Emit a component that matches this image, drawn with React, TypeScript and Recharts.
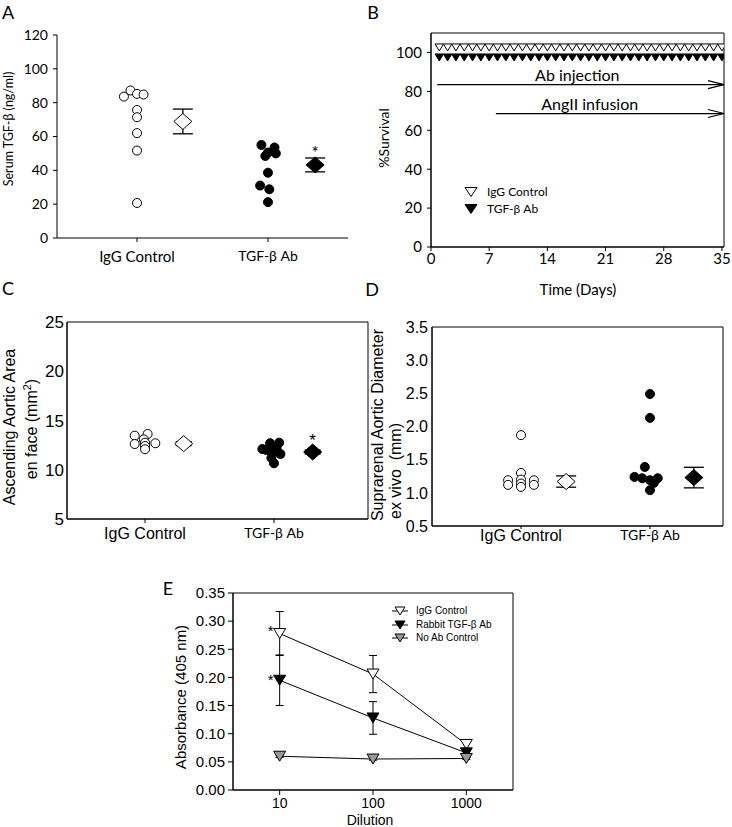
import React from "react";
import {
  ScatterChart,
  Scatter,
  LineChart,
  Line,
  XAxis,
  YAxis,
  ErrorBar,
  ReferenceArea,
  ReferenceLine,
  ReferenceDot,
} from "recharts";

const groups = ["IgG Control", "TGF-β Ab"];

// A: serum TGF-beta (ng/ml), x = group index with a little jitter
const serumIgG = [
  { x: 0.9, y: 83.6 },
  { x: 0.95, y: 87.2 },
  { x: 1.0, y: 85.2 },
  { x: 1.05, y: 84.8 },
  { x: 1.0, y: 75.7 },
  { x: 1.0, y: 71.4 },
  { x: 1.0, y: 62.0 },
  { x: 1.0, y: 51.7 },
  { x: 1.0, y: 20.7 },
];
const serumAb = [
  { x: 1.95, y: 55.0 },
  { x: 2.05, y: 53.5 },
  { x: 2.0, y: 50.5 },
  { x: 1.98, y: 48.5 },
  { x: 2.06, y: 50.0 },
  { x: 2.0, y: 38.6 },
  { x: 1.94, y: 31.0 },
  { x: 2.01, y: 28.8 },
  { x: 2.0, y: 21.2 },
];
const serumMeanIgG = [{ x: 1.35, y: 68.9, err: 7.3 }];
const serumMeanAb = [{ x: 2.36, y: 43.2, err: 4.1 }];
const serumStar = [{ x: 2.36, y: 51.5 }];

// B: survival
const survivalDays = [
  1, 2, 3, 4, 5, 6, 7, 8, 9, 10, 11, 12, 13, 14, 15, 16, 17, 18, 19, 20, 21,
  22, 23, 24, 25, 26, 27, 28, 29, 30, 31, 32, 33, 34, 35,
];
const survivalIgG = [
  100, 100, 100, 100, 100, 100, 100, 100, 100, 100, 100, 100, 100, 100, 100,
  100, 100, 100, 100, 100, 100, 100, 100, 100, 100, 100, 100, 100, 100, 100,
  100, 100, 100, 100, 100,
];
const survivalAb = [
  100, 100, 100, 100, 100, 100, 100, 100, 100, 100, 100, 100, 100, 100, 100,
  100, 100, 100, 100, 100, 100, 100, 100, 100, 100, 100, 100, 100, 100, 100,
  100, 100, 100, 100, 100,
];
const treatments = [
  { label: "Ab injection", start: 0.75, level: 83.5, textX: 17.6, textY: 88.2 },
  { label: "AngII infusion", start: 7.8, level: 68.6, textX: 19.1, textY: 73.2 },
];

// C: ascending aortic area en face (mm2)
const areaIgG = [
  { x: 0.92, y: 13.46 },
  { x: 1.02, y: 13.63 },
  { x: 0.92, y: 12.61 },
  { x: 1.08, y: 12.69 },
  { x: 0.99, y: 13.09 },
  { x: 1.0, y: 12.75 },
  { x: 1.0, y: 12.41 },
  { x: 1.0, y: 12.08 },
];
const areaAb = [
  { x: 1.91, y: 12.1 },
  { x: 1.97, y: 12.7 },
  { x: 2.04, y: 12.75 },
  { x: 1.94, y: 12.0 },
  { x: 1.99, y: 11.8 },
  { x: 2.05, y: 11.6 },
  { x: 2.02, y: 12.2 },
  { x: 1.98, y: 11.2 },
  { x: 2.0, y: 10.65 },
];
const areaMeanIgG = [{ x: 1.3, y: 12.65, err: 0.2 }];
const areaMeanAb = [{ x: 2.3, y: 11.8, err: 0.2 }];
const areaStar = [{ x: 2.3, y: 13.2 }];

// D: suprarenal aortic diameter ex vivo (mm)
const diamIgG = [
  { x: 1.0, y: 1.87 },
  { x: 1.0, y: 1.3 },
  { x: 1.0, y: 1.2 },
  { x: 1.0, y: 1.14 },
  { x: 1.0, y: 1.09 },
  { x: 0.9, y: 1.19 },
  { x: 0.9, y: 1.12 },
  { x: 1.1, y: 1.19 },
  { x: 1.1, y: 1.12 },
];
const diamAb = [
  { x: 2.0, y: 2.49 },
  { x: 2.0, y: 2.13 },
  { x: 1.96, y: 1.39 },
  { x: 1.88, y: 1.24 },
  { x: 1.94, y: 1.22 },
  { x: 2.0, y: 1.19 },
  { x: 2.06, y: 1.22 },
  { x: 2.03, y: 1.15 },
  { x: 2.0, y: 1.04 },
];
const diamMeanIgG = [{ x: 1.35, y: 1.17, err: 0.085 }];
const diamMeanAb = [{ x: 2.34, y: 1.23, err: 0.155 }];

// E: ELISA absorbance
const dilutions = [10, 100, 1000];
const iggAbs = [0.278, 0.206, 0.081];
const iggSem = [0.039, 0.033, 0.008];
const rabbitAbs = [0.195, 0.128, 0.066];
const rabbitSem = [0.045, 0.029, 0.004];
const noAbAbs = [0.06, 0.055, 0.056];
const noAbSem = [0.002, 0.002, 0.002];
const elisaStars = [
  { x: 8, y: 0.285 },
  { x: 8, y: 0.199 },
];

const elisa = dilutions.map((d, i) => ({
  dil: d,
  igg: iggAbs[i],
  iggErr: iggSem[i],
  rabbit: rabbitAbs[i],
  rabbitErr: rabbitSem[i],
  noab: noAbAbs[i],
  noabErr: noAbSem[i],
}));

const CAL = "Lato, sans-serif";
const ARIAL = "'Liberation Sans', Arial, sans-serif";
const black = { stroke: "#000" };

const circle = (fill: string) => (p: any) =>
  <circle cx={p.cx} cy={p.cy} r={4.5} fill={fill} stroke="#000" strokeWidth={1} />;

const diamond = (fill: string) => (p: any) => (
  <path
    d={`M${p.cx},${p.cy - 8}L${p.cx + 9},${p.cy}L${p.cx},${p.cy + 8}L${p.cx - 9},${p.cy}Z`}
    fill={fill}
    stroke="#000"
    strokeWidth={1}
  />
);

const triPath = (cx: number, cy: number, w: number, h: number) =>
  `M${cx - w / 2},${cy - h / 2}L${cx + w / 2},${cy - h / 2}L${cx},${cy + h / 2}Z`;

// survival triangles overlap at 100 %, so each series is nudged apart a few px
const survTri = (fill: string, shift: number) => (p: any) =>
  <path d={triPath(p.cx, p.cy + shift, 8.5, 7)} fill={fill} stroke="#000" strokeWidth={1} />;

const star = (size: number, font: string) => (p: any) => (
  <text x={p.cx} y={p.cy} dy="0.45em" textAnchor="middle" fontSize={size} fontFamily={font}>
    *
  </text>
);

const catTick = (igFont: string, igSize: number, abFont: string, abSize: number) => (p: any) => {
  const idx = p.payload.value - 1;
  const isIg = idx === 0;
  return (
    <text
      x={p.x}
      y={p.y}
      dy="0.71em"
      textAnchor="middle"
      fontFamily={isIg ? igFont : abFont}
      fontSize={isIg ? igSize : abSize}
      fill="#000"
    >
      {groups[idx]}
    </text>
  );
};

const arrowShape = (p: any) => (
  <g>
    <line x1={p.x1} y1={p.y1} x2={p.x2} y2={p.y2} stroke="#000" strokeWidth={1.2} />
    <path
      d={`M${p.x2 - 16},${p.y2 - 4}L${p.x2},${p.y2}L${p.x2 - 16},${p.y2 + 4}`}
      fill="none"
      stroke="#000"
      strokeWidth={1.2}
    />
  </g>
);

function Title({ x, y, size, font, rotate, children }: any) {
  return (
    <div
      style={{
        position: "absolute",
        left: x,
        top: y,
        transform: `translate(-50%, -50%)${rotate ? " rotate(-90deg)" : ""}`,
        fontSize: size,
        fontFamily: font,
        lineHeight: 1,
        whiteSpace: "nowrap",
        color: "#000",
      }}
    >
      {children}
    </div>
  );
}

function Box({ left, top, children }: any) {
  return <div style={{ position: "absolute", left, top }}>{children}</div>;
}

export default function App() {
  return (
    <div
      style={{
        position: "absolute",
        left: 0,
        top: 0,
        width: 732,
        height: 827,
        background: "#fff",
        overflow: "hidden",
      }}
    >
      {/* A */}
      <Box left={0} top={0}>
        <ScatterChart width={360} height={280} margin={{ top: 35, right: 12, bottom: 12, left: 17 }}>
          <XAxis
            type="number"
            dataKey="x"
            domain={[0.389, 2.611]}
            allowDataOverflow
            ticks={[1, 2]}
            height={30}
            tickSize={4}
            tickMargin={9}
            axisLine={black}
            tickLine={black}
            tick={catTick(CAL, 15, CAL, 14)}
          />
          <YAxis
            type="number"
            dataKey="y"
            domain={[0, 120]}
            allowDataOverflow
            ticks={[0, 20, 40, 60, 80, 100, 120]}
            width={40}
            tickSize={4}
            tickMargin={5}
            axisLine={black}
            tickLine={black}
            tick={{ fontSize: 14, fill: "#000", fontFamily: CAL }}
          />
          <Scatter data={serumIgG} shape={circle("#fff")} isAnimationActive={false} />
          <Scatter data={serumAb} shape={circle("#000")} isAnimationActive={false} />
          <Scatter data={serumMeanIgG} shape={diamond("#fff")} isAnimationActive={false}>
            <ErrorBar dataKey="err" direction="y" width={10} stroke="#000" strokeWidth={1.3} />
          </Scatter>
          <Scatter data={serumMeanAb} shape={diamond("#000")} isAnimationActive={false}>
            <ErrorBar dataKey="err" direction="y" width={10} stroke="#000" strokeWidth={1.3} />
          </Scatter>
          {serumStar.map((s, i) => (
            <ReferenceDot key={i} x={s.x} y={s.y} r={1} shape={star(17, CAL)} />
          ))}
        </ScatterChart>
      </Box>

      {/* B */}
      <Box left={360} top={0}>
        <ScatterChart width={372} height={300} margin={{ top: 33, right: 8, bottom: 23, left: 31 }}>
          <XAxis
            type="number"
            dataKey="x"
            domain={[0, 35.25]}
            allowDataOverflow
            ticks={[0, 7, 14, 21, 28, 35]}
            height={30}
            tickSize={4}
            tickMargin={2}
            axisLine={black}
            tickLine={black}
            tick={{ fontSize: 15, fill: "#000", fontFamily: CAL }}
          />
          <YAxis
            type="number"
            dataKey="y"
            domain={[0, 110]}
            allowDataOverflow
            ticks={[0, 20, 40, 60, 80, 100]}
            width={40}
            tickSize={4}
            tickMargin={5}
            axisLine={black}
            tickLine={black}
            tick={{ fontSize: 15, fill: "#000", fontFamily: CAL }}
          />
          <ReferenceArea x1={0} x2={35.25} y1={0} y2={110} fill="none" stroke="#000" strokeWidth={1} />
          <Scatter
            data={survivalDays.map((d, i) => ({ x: d, y: survivalIgG[i] }))}
            shape={survTri("#fff", -5)}
            isAnimationActive={false}
          />
          <Scatter
            data={survivalDays.map((d, i) => ({ x: d, y: survivalAb[i] }))}
            shape={survTri("#000", 5)}
            isAnimationActive={false}
          />
          {treatments.map((t) => (
            <ReferenceLine
              key={t.label}
              segment={[
                { x: t.start, y: t.level },
                { x: 35.25, y: t.level },
              ]}
              shape={arrowShape}
              ifOverflow="visible"
            />
          ))}
          {treatments.map((t) => (
            <ReferenceDot
              key={t.label + "-txt"}
              x={t.textX}
              y={t.textY}
              r={1}
              shape={(p: any) => (
                <text x={p.cx} y={p.cy} dy="0.35em" textAnchor="middle" fontSize={16} fontFamily={CAL}>
                  {t.label}
                </text>
              )}
            />
          ))}
        </ScatterChart>
      </Box>

      {/* C */}
      <Box left={0} top={280}>
        <ScatterChart width={370} height={280} margin={{ top: 42, right: 2, bottom: 11, left: 37 }}>
          <XAxis
            type="number"
            dataKey="x"
            domain={[0.395, 2.729]}
            allowDataOverflow
            ticks={[1, 2]}
            height={30}
            tickSize={4}
            tickMargin={5}
            axisLine={black}
            tickLine={black}
            tick={catTick(ARIAL, 16, CAL, 14)}
          />
          <YAxis
            type="number"
            dataKey="y"
            domain={[5, 25]}
            allowDataOverflow
            ticks={[5, 10, 15, 20, 25]}
            width={30}
            tickSize={0}
            tickMargin={3}
            axisLine={black}
            tickLine={false}
            tick={{ fontSize: 17, fill: "#000", fontFamily: ARIAL }}
          />
          <ReferenceArea x1={0.395} x2={2.729} y1={5} y2={25} fill="none" stroke="#000" strokeWidth={1} />
          <Scatter data={areaIgG} shape={circle("#fff")} isAnimationActive={false} />
          <Scatter data={areaAb} shape={circle("#000")} isAnimationActive={false} />
          <Scatter data={areaMeanIgG} shape={diamond("#fff")} isAnimationActive={false}>
            <ErrorBar dataKey="err" direction="y" width={8} stroke="#000" strokeWidth={1.3} />
          </Scatter>
          <Scatter data={areaMeanAb} shape={diamond("#000")} isAnimationActive={false}>
            <ErrorBar dataKey="err" direction="y" width={8} stroke="#000" strokeWidth={1.3} />
          </Scatter>
          {areaStar.map((s, i) => (
            <ReferenceDot key={i} x={s.x} y={s.y} r={1} shape={star(17, ARIAL)} />
          ))}
        </ScatterChart>
      </Box>

      {/* D */}
      <Box left={360} top={280}>
        <ScatterChart width={372} height={280} margin={{ top: 47, right: 9, bottom: 9, left: 37 }}>
          <XAxis
            type="number"
            dataKey="x"
            domain={[0.31, 2.566]}
            allowDataOverflow
            ticks={[1, 2]}
            height={25}
            tickSize={3}
            tickMargin={1}
            axisLine={black}
            tickLine={black}
            tick={catTick(ARIAL, 16, CAL, 14)}
          />
          <YAxis
            type="number"
            dataKey="y"
            domain={[0.5, 3.5]}
            allowDataOverflow
            ticks={[0.5, 1, 1.5, 2, 2.5, 3, 3.5]}
            tickFormatter={(v: number) => v.toFixed(1)}
            width={35}
            tickSize={0}
            tickMargin={4}
            axisLine={black}
            tickLine={false}
            tick={{ fontSize: 16, fill: "#000", fontFamily: ARIAL }}
          />
          <ReferenceArea x1={0.31} x2={2.566} y1={0.5} y2={3.5} fill="none" stroke="#000" strokeWidth={1} />
          <Scatter data={diamIgG} shape={circle("#fff")} isAnimationActive={false} />
          <Scatter data={diamAb} shape={circle("#000")} isAnimationActive={false} />
          <Scatter data={diamMeanIgG} shape={diamond("#fff")} isAnimationActive={false}>
            <ErrorBar dataKey="err" direction="y" width={10} stroke="#000" strokeWidth={1.3} />
          </Scatter>
          <Scatter data={diamMeanAb} shape={diamond("#000")} isAnimationActive={false}>
            <ErrorBar dataKey="err" direction="y" width={10} stroke="#000" strokeWidth={1.3} />
          </Scatter>
        </ScatterChart>
      </Box>

      {/* E */}
      <Box left={160} top={560}>
        <LineChart width={372} height={267} data={elisa} margin={{ top: 33, right: 19, bottom: 12, left: 28 }}>
          <XAxis
            type="number"
            dataKey="dil"
            scale="log"
            domain={[3.162, 3162]}
            allowDataOverflow
            ticks={[10, 100, 1000]}
            height={25}
            tickSize={5}
            tickMargin={3}
            axisLine={black}
            tickLine={black}
            tick={{ fontSize: 14, fill: "#000", fontFamily: ARIAL }}
          />
          <YAxis
            type="number"
            domain={[0, 0.35]}
            allowDataOverflow
            ticks={[0, 0.05, 0.1, 0.15, 0.2, 0.25, 0.3, 0.35]}
            tickFormatter={(v: number) => v.toFixed(2)}
            width={45}
            tickSize={5}
            tickMargin={3}
            axisLine={black}
            tickLine={black}
            tick={{ fontSize: 15, fill: "#000", fontFamily: ARIAL }}
          />
          <ReferenceArea x1={3.162} x2={3162} y1={0} y2={0.35} fill="none" stroke="#000" strokeWidth={1} />
          <Line
            dataKey="igg"
            stroke="#000"
            strokeWidth={1}
            isAnimationActive={false}
            activeDot={false}
            dot={(p: any) => (
              <path key={"i" + p.index} d={triPath(p.cx, p.cy, 12, 10)} fill="#fff" stroke="#000" strokeWidth={1} />
            )}
          >
            <ErrorBar dataKey="iggErr" direction="y" width={4} stroke="#000" strokeWidth={1} />
          </Line>
          <Line
            dataKey="rabbit"
            stroke="#000"
            strokeWidth={1}
            isAnimationActive={false}
            activeDot={false}
            dot={(p: any) => (
              <path key={"r" + p.index} d={triPath(p.cx, p.cy, 12, 10)} fill="#000" stroke="#000" strokeWidth={1} />
            )}
          >
            <ErrorBar dataKey="rabbitErr" direction="y" width={4} stroke="#000" strokeWidth={1} />
          </Line>
          <Line
            dataKey="noab"
            stroke="#000"
            strokeWidth={1}
            isAnimationActive={false}
            activeDot={false}
            dot={(p: any) => (
              <path key={"n" + p.index} d={triPath(p.cx, p.cy, 12, 10)} fill="#999" stroke="#000" strokeWidth={1} />
            )}
          >
            <ErrorBar dataKey="noabErr" direction="y" width={4} stroke="#000" strokeWidth={1} />
          </Line>
          {elisaStars.map((s, i) => (
            <ReferenceDot key={i} x={s.x} y={s.y} r={1} shape={star(15, ARIAL)} />
          ))}
        </LineChart>
      </Box>

      {/* legends */}
      {[
        { label: "IgG Control", fill: "#fff", y: 192 },
        { label: "TGF-β Ab", fill: "#000", y: 209 },
      ].map((l) => (
        <div key={l.label} style={{ position: "absolute", left: 463, top: l.y - 8, height: 16, display: "flex", alignItems: "center" }}>
          <svg width={16} height={16}>
            <path d={triPath(8, 8, 12, 9)} fill={l.fill} stroke="#000" strokeWidth={1} />
          </svg>
          <span style={{ marginLeft: 8, fontFamily: CAL, fontSize: 12, lineHeight: 1 }}>{l.label}</span>
        </div>
      ))}
      {[
        { label: "IgG Control", fill: "#fff", y: 611 },
        { label: "Rabbit TGF-β Ab", fill: "#000", y: 625 },
        { label: "No Ab Control", fill: "#999", y: 638 },
      ].map((l) => (
        <div key={l.label} style={{ position: "absolute", left: 391, top: l.y - 7, height: 14, display: "flex", alignItems: "center" }}>
          <svg width={18} height={14}>
            <line x1={1} y1={7} x2={17} y2={7} stroke="#000" strokeWidth={1} />
            <path d={triPath(9, 7, 10, 8)} fill={l.fill} stroke="#000" strokeWidth={1} />
          </svg>
          <span style={{ marginLeft: 7, fontFamily: ARIAL, fontSize: 10, lineHeight: 1 }}>{l.label}</span>
        </div>
      ))}

      {/* panel letters and axis titles */}
      <Title x={8} y={12} size={18} font={CAL}>A</Title>
      <Title x={373} y={12} size={18} font={CAL}>B</Title>
      <Title x={8} y={288} size={18} font={CAL}>C</Title>
      <Title x={372} y={289} size={18} font={CAL}>D</Title>
      <Title x={168} y={588} size={18} font={CAL}>E</Title>

      <Title x={9} y={129} size={12.5} font={CAL} rotate>Serum TGF-β (ng/ml)</Title>
      <Title x={384} y={138} size={14} font={CAL} rotate>%Survival</Title>
      <Title x={578} y={289} size={15} font={CAL}>Time (Days)</Title>
      <Title x={10} y={427} size={16} font={ARIAL} rotate>Ascending Aortic Area</Title>
      <Title x={31} y={429} size={16} font={ARIAL} rotate>
        en face (mm<sup style={{ fontSize: 11 }}>2</sup>)
      </Title>
      <Title x={378} y={425} size={16} font={ARIAL} rotate>Suprarenal Aortic Diameter</Title>
      <Title x={396} y={471} size={16} font={ARIAL} rotate>ex vivo&nbsp;&nbsp;(mm)</Title>
      <Title x={180} y={697} size={15} font={ARIAL} rotate>Absorbance (405 nm)</Title>
      <Title x={370} y={820} size={14} font={ARIAL}>Dilution</Title>
    </div>
  );
}
